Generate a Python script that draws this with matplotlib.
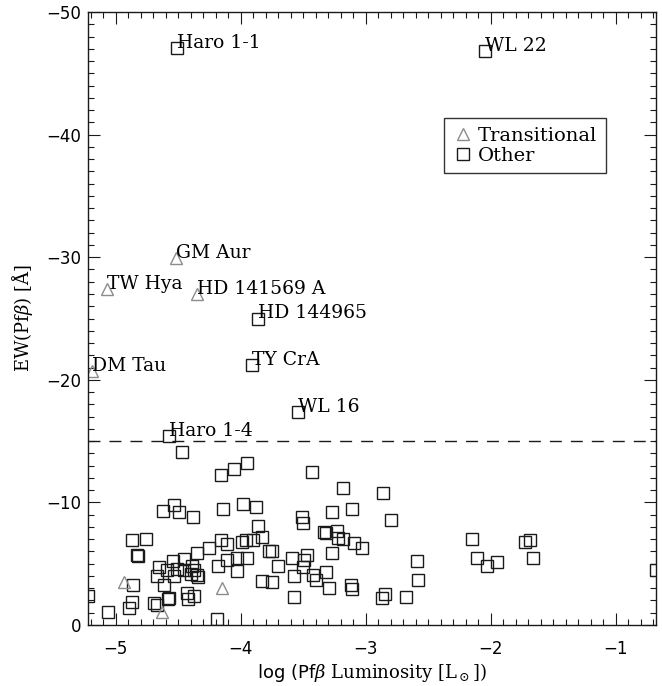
import matplotlib
matplotlib.use("Agg")
import matplotlib.pyplot as plt

plt.rcParams["mathtext.fontset"] = "dejavuserif"

# Labelled sources
named_stars = ["Haro 1-1", "WL 22", "GM Aur", "TW Hya", "HD 141569 A", "HD 144965",
               "TY CrA", "DM Tau", "WL 16", "Haro 1-4"]
named_x = [-4.51, -2.05, -4.52, -5.07, -4.35, -3.86, -3.91, -5.19, -3.54, -4.57]
named_y = [-47.1, -46.8, -29.9, -27.4, -27.0, -25.0, -21.2, -20.7, -17.4, -15.4]
named_transitional = [False, False, True, True, True, False, False, True, False, False]

# Other (unlabelled) sources
other_x = [-4.47, -4.16, -4.05, -3.95, -4.62, -4.53, -4.49, -4.38, -4.14, -3.98,
           -3.88, -3.86, -4.87, -4.76, -4.83, -4.82, -4.16, -4.11, -3.99, -3.96,
           -3.90, -3.83, -3.77, -3.75, -4.25, -4.35, -4.45, -4.54, -4.65, -4.59,
           -4.51, -4.45, -4.39, -4.37, -4.35, -4.67, -4.53, -4.40, -4.34, -4.61,
           -4.86, -4.18, -4.11, -4.03, -3.95, -4.03, -3.83, -3.75, -3.70, -5.22,
           -5.06, -4.87, -4.89, -4.69, -4.67, -4.57, -4.58, -4.43, -4.42, -4.37,
           -4.19,
           -3.43, -3.18, -2.86, -3.51, -3.50, -3.27, -3.11, -2.80, -3.33, -3.32,
           -3.23, -3.22, -3.18, -3.09, -3.03, -3.27, -3.59, -3.47, -3.49, -3.50,
           -3.57, -3.42, -3.40, -3.32, -3.29, -3.12, -3.11, -3.57, -2.85, -2.87,
           -2.68, -2.59, -2.58, -2.15,
           -2.11, -2.03, -1.95, -1.73, -1.69, -1.66, -0.68]
other_y = [-14.1, -12.2, -12.7, -13.2, -9.3, -9.8, -9.2, -8.8, -9.5, -9.9,
           -9.6, -8.1, -6.9, -7.0, -5.7, -5.6, -6.9, -6.6, -6.8, -6.9,
           -6.9, -7.2, -6.0, -6.0, -6.3, -5.9, -5.4, -5.2, -4.7, -4.5,
           -4.6, -4.5, -4.8, -4.5, -4.1, -4.0, -4.0, -4.2, -3.9, -3.3,
           -3.3, -4.8, -5.3, -5.5, -5.5, -4.4, -3.6, -3.5, -4.8, -2.4,
           -1.1, -1.9, -1.4, -1.8, -1.6, -2.2, -2.1, -2.6, -2.1, -2.4,
           -0.5,
           -12.5, -11.2, -10.8, -8.8, -8.3, -9.2, -9.5, -8.6, -7.6, -7.5,
           -7.7, -7.1, -7.0, -6.7, -6.3, -5.9, -5.5, -5.7, -5.3, -4.7,
           -4.0, -4.1, -3.7, -4.3, -3.0, -3.3, -2.9, -2.3, -2.5, -2.2,
           -2.3, -5.2, -3.7, -7.0,
           -5.5, -4.8, -5.1, -6.8, -6.9, -5.5, -4.5]

# Transitional (unlabelled) sources
trans_x = [-4.93, -4.63, -4.15]
trans_y = [-3.5, -1.1, -3.0]

cut_level = -15

fig = plt.figure(figsize=(6.62, 6.86), dpi=100)
ax = fig.add_axes([88 / 662, 61 / 686, 568 / 662, 613 / 686])

sq_kw = dict(marker="s", ms=8.4, mfc="none", mec="#1a1a1a", mew=1.0, ls="none")
tri_kw = dict(marker="^", ms=8.6, mfc="none", mec="#8c8c8c", mew=1.0, ls="none")

ax.plot(other_x, other_y, **sq_kw)
ax.plot(trans_x, trans_y, **tri_kw)

for name, x, y, is_tr in zip(named_stars, named_x, named_y, named_transitional):
    ax.plot([x], [y], **(tri_kw if is_tr else sq_kw))
    ax.text(x, y, name, ha="left", va="baseline", fontsize=13.5, family="DejaVu Serif")

ax.axhline(cut_level, color="#1a1a1a", lw=1.0, dashes=(8.6, 6.5))

ax.set_xlim(-5.22, -0.68)
ax.set_ylim(0, -50)
ax.set_xticks([-5, -4, -3, -2, -1])
ax.set_xticks([v / 10 for v in range(-52, -6)], minor=True)
ax.set_yticks([0, -10, -20, -30, -40, -50])
ax.set_yticks(list(range(0, -51, -1)), minor=True)
ax.tick_params(which="both", direction="in", top=True, right=True, width=0.8,
               labelsize=12, color="#1a1a1a")
ax.tick_params(which="major", length=8.5)
ax.tick_params(which="minor", length=4)
ax.tick_params(axis="x", pad=11)
ax.tick_params(axis="y", pad=5)
for s in ax.spines.values():
    s.set_linewidth(1.0)
    s.set_color("#1a1a1a")

ax.set_xlabel(r"$\mathsf{log\ (Pf}\beta$ Luminosity [L$_\odot$])", fontsize=13,
              family="DejaVu Serif", labelpad=2)
ax.set_ylabel(r"EW(Pf$\beta$) [$\mathrm{\AA}$]", fontsize=13,
              family="DejaVu Serif", labelpad=8)

h_tr, = ax.plot([], [], **tri_kw)
h_ot, = ax.plot([], [], **sq_kw)
leg = ax.legend([h_tr, h_ot], ["Transitional", "Other"], loc="upper left",
                bbox_to_anchor=(0.627, 0.827), borderaxespad=0, fancybox=False,
                framealpha=1, edgecolor="#333333", handlelength=1.0,
                handletextpad=0.3, borderpad=0.45, labelspacing=0.1,
                prop={"family": "DejaVu Serif", "size": 14})
leg.get_frame().set_linewidth(1.0)

fig.savefig("out.png", dpi=100)
